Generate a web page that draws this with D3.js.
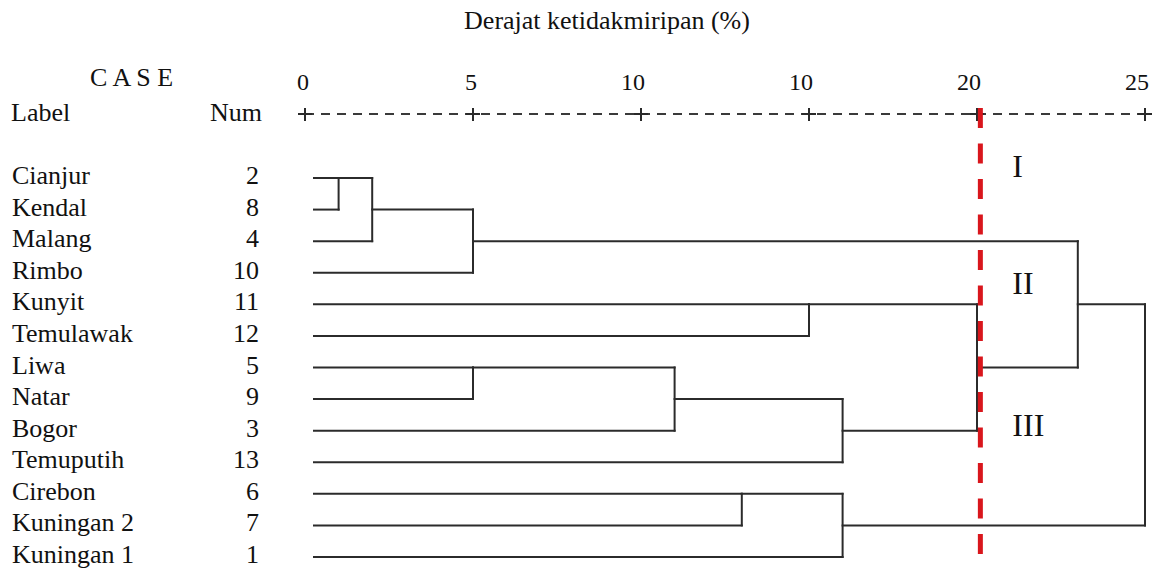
<!DOCTYPE html>
<html>
<head>
<meta charset="utf-8">
<script src="https://cdn.jsdelivr.net/npm/d3@7"></script>
<style>
    body { margin: 0; background: #fff; }
</style>
</head>
<body>
<svg id="chart" width="1152" height="568"></svg>
<script>
// cases in dendrogram order
var labels = ["Cianjur", "Kendal", "Malang", "Rimbo", "Kunyit", "Temulawak", "Liwa",
    "Natar", "Bogor", "Temuputih", "Cirebon", "Kuningan 2", "Kuningan 1"];
var nums = [2, 8, 4, 10, 11, 12, 5, 9, 3, 13, 6, 7, 1];

// agglomeration steps: [clusterA, clusterB, distance], new cluster id = 13 + step
var merges = [
    [0, 1, 1],
    [13, 2, 2],
    [14, 3, 5],
    [4, 5, 15],
    [6, 7, 5],
    [17, 8, 11],
    [18, 9, 16],
    [16, 19, 20],
    [15, 20, 23],
    [10, 11, 13],
    [22, 12, 16],
    [21, 23, 25]
];

var tickValues = [0, 5, 10, 15, 20, 25];
var tickLabels = ["0", "5", "10", "10", "20", "25"];
var cutoff = 20.1;
var groupNames = ["I", "II", "III"];

var FONT = "'Liberation Serif', Tinos, 'Times New Roman', 'DejaVu Serif', serif";

class Dendrogram {

    constructor(svg) {
        this.svg = svg;
        this.x = d3.scaleLinear().domain([0, 25]).range([305, 1145]);
        this.y = d3.scaleLinear().domain([0, labels.length - 1]).range([178, 557]);
        this.leafStart = 314;
    }

    text(parent, x, y, size, str) {
        return parent.append("text")
            .attr("x", x).attr("y", y)
            .attr("font-family", FONT)
            .attr("font-size", size)
            .attr("fill", "#111")
            .text(str);
    }

    draw() {
        var self = this;
        var svg = this.svg;

        this.text(svg, 607, 29, 26, "Derajat ketidakmiripan (%)").attr("text-anchor", "middle");
        this.text(svg, 90, 86, 26, "C A S E");
        this.text(svg, 11, 121, 26, "Label");
        this.text(svg, 210, 121, 26, "Num");

        // axis made of dashes with "+" at each tick
        var axisY = 114;
        svg.append("line")
            .attr("x1", self.x(0)).attr("x2", self.x(25))
            .attr("y1", axisY).attr("y2", axisY)
            .attr("stroke", "#3a3a3a").attr("stroke-width", 2)
            .attr("stroke-dasharray", "9,7");
        var ticks = svg.append("g").selectAll("g")
            .data(tickValues)
            .join("g")
            .attr("transform", function(d) { return "translate(" + self.x(d) + "," + axisY + ")"; });
        ticks.append("line").attr("x1", -7).attr("x2", 7)
            .attr("stroke", "#2a2a2a").attr("stroke-width", 2);
        ticks.append("line").attr("y1", -6).attr("y2", 7)
            .attr("stroke", "#2a2a2a").attr("stroke-width", 2);
        ticks.each(function(d, i) {
            self.text(d3.select(this), 4, -24, 24, tickLabels[i]).attr("text-anchor", "end");
        });

        // case labels and numbers
        labels.forEach(function(d, i) {
            self.text(svg, 12, self.y(i) + 6, 26, d);
            self.text(svg, 259, self.y(i) + 6, 26, nums[i]).attr("text-anchor", "end");
        });

        // cluster row positions and heights
        var row = labels.map(function(d, i) { return i; });
        var height = labels.map(function() { return null; });
        var segs = [];
        merges.forEach(function(m) {
            var h = m[2];
            [m[0], m[1]].forEach(function(c) {
                var x0 = height[c] === null ? self.leafStart : self.x(height[c]);
                segs.push([x0, self.y(row[c]), self.x(h), self.y(row[c])]);
            });
            segs.push([self.x(h), self.y(row[m[0]]), self.x(h), self.y(row[m[1]])]);
            row.push(Math.floor((row[m[0]] + row[m[1]]) / 2));
            height.push(h);
        });

        svg.append("g").selectAll("line")
            .data(segs)
            .join("line")
            .attr("x1", function(d) { return d[0]; })
            .attr("y1", function(d) { return d[1]; })
            .attr("x2", function(d) { return d[2]; })
            .attr("y2", function(d) { return d[3]; })
            .attr("stroke", "#2b2b2b")
            .attr("stroke-width", 2)
            .attr("stroke-linecap", "square");

        // cut-off line
        svg.append("line")
            .attr("x1", self.x(cutoff)).attr("x2", self.x(cutoff))
            .attr("y1", 108).attr("y2", 557)
            .attr("stroke", "#d9161c").attr("stroke-width", 5)
            .attr("stroke-dasharray", "20,15.5");

        var groupRows = [-0.4, 3.3, 7.8];
        groupNames.forEach(function(d, i) {
            self.text(svg, self.x(cutoff) + 32, self.y(groupRows[i]) + 12, 32, d);
        });
    }
}

var chart = new Dendrogram(d3.select("#chart"));
chart.draw();
</script>
</body>
</html>
